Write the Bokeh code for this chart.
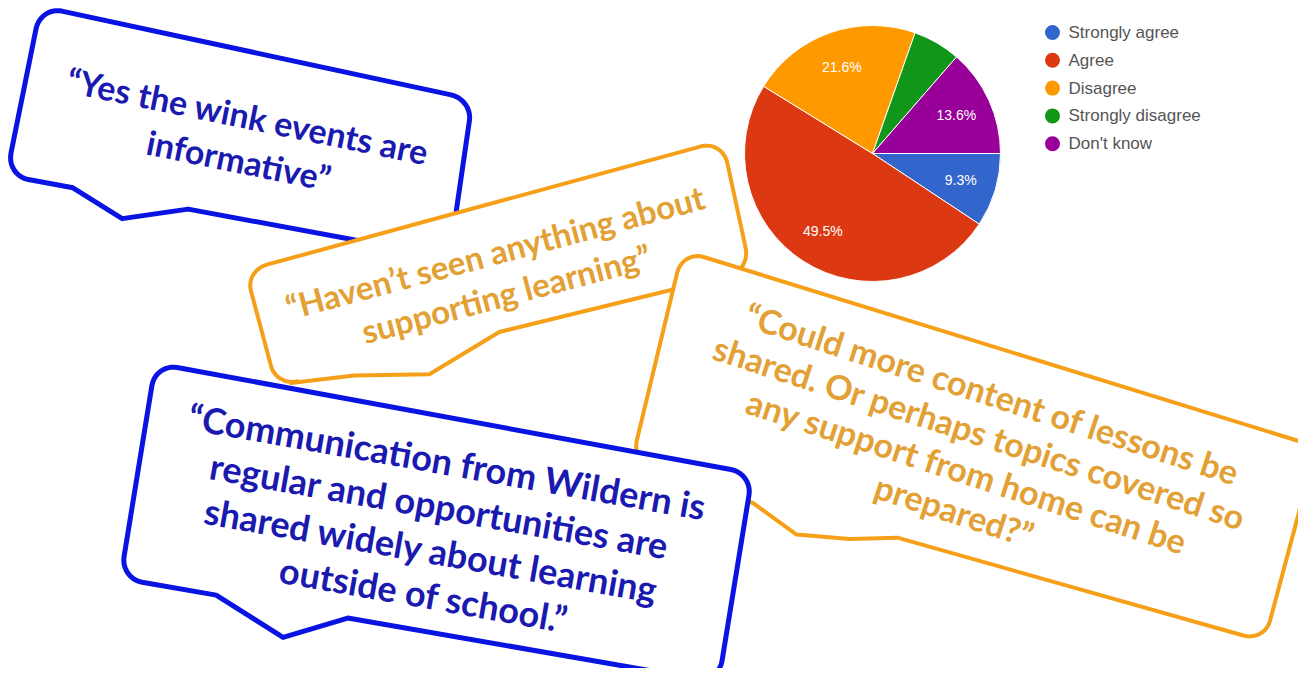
import math
import numpy as np
from bokeh.plotting import figure
from bokeh.models import Range1d
from bokeh.core.properties import value
from bokeh.embed import file_html
from bokeh.resources import INLINE

# ---------------- data ----------------
categories = ["Strongly agree", "Agree", "Disagree", "Strongly disagree", "Don't know"]
percents = [9.3, 49.5, 21.6, 6.0, 13.6]
slice_colors = ["#3366cc", "#dc3912", "#ff9900", "#109618", "#990099"]

quote_wink = ["\u201cYes the wink events are", "informative\u201d"]
quote_seen = ["\u201cHaven\u2019t seen anything about", "supporting learning\u201d"]
quote_comm = ["\u201cCommunication from Wildern is", "regular and opportunities are",
              "shared widely about learning", "outside of school.\u201d"]
quote_could = ["\u201cCould more content of lessons be", "shared. Or perhaps topics covered so",
               "any support from home can be", "prepared?\u201d"]

BLUE_LINE, BLUE_TEXT = "#0a14e2", "#1a1ab0"
ORANGE_LINE, ORANGE_TEXT = "#f6a01a", "#e3a035"

# layout of the speech bubbles (screen pixel geometry)
bubbles = [
    dict(corners=[(40, 6), (472, 99), (449, 257), (6, 175)], tail=[(0.15, 0), (0.27, 21), (0.41, 0)],
         line=BLUE_LINE, lw=5, text=quote_wink, tc=BLUE_TEXT, center=(243, 137), angle=11.5, fs=34, sp=45),
    dict(corners=[(245, 270), (722, 140), (750, 270), (276, 386)], tail=[(0.03, 0), (0.16, 8), (0.31, 25), (0.47, 0)],
         line=ORANGE_LINE, lw=4, text=quote_seen, tc=ORANGE_TEXT, center=(500, 272), angle=-15, fs=33, sp=43),
    dict(corners=[(682, 250), (1316, 446), (1264, 641), (631, 462)], tail=[(0.12, 0), (0.195, 6), (0.27, 24), (0.35, 14), (0.42, 0)],
         line=ORANGE_LINE, lw=4, text=quote_could, tc=ORANGE_TEXT, center=(973, 451), angle=18, fs=34, sp=41),
    dict(corners=[(155, 363), (752, 473), (718, 682), (120, 578)], tail=[(0.16, 0), (0.28, 30), (0.38, 0)],
         line=BLUE_LINE, lw=5, text=quote_comm, tc=BLUE_TEXT, center=(435, 527), angle=10, fs=36, sp=45),
]

PAGE_H = 684


def sy(y):
    return PAGE_H - y


def dist(a, b):
    return math.hypot(a[0] - b[0], a[1] - b[1])


def bubble_outline(corners, tail, radius=22):
    tl, tr, br, bl = corners
    W = (dist(tl, tr) + dist(bl, br)) / 2
    H = (dist(tl, bl) + dist(tr, br)) / 2
    rs, rt = radius / W, radius / H
    pts = []

    def arc(cx, cy, a0, a1, n=10):
        for k in range(n + 1):
            a = math.radians(a0 + (a1 - a0) * k / n)
            pts.append((cx + rs * math.cos(a), cy + rt * math.sin(a)))

    arc(1 - rs, rt, -90, 0)
    arc(1 - rs, 1 - rt, 0, 90)
    for s, d in sorted(tail, reverse=True):
        pts.append((s, 1 + d / H))
    arc(rs, 1 - rt, 90, 180)
    arc(rs, rt, 180, 270)
    xs, ys = [], []
    for s, t in pts:
        px = (1 - s) * (1 - t) * tl[0] + s * (1 - t) * tr[0] + s * t * br[0] + (1 - s) * t * bl[0]
        py = (1 - s) * (1 - t) * tl[1] + s * (1 - t) * tr[1] + s * t * br[1] + (1 - s) * t * bl[1]
        xs.append(px)
        ys.append(sy(py))
    return xs, ys


p = figure(width=1298, height=668, output_backend="svg", toolbar_location=None,
           x_range=Range1d(0, 1298), y_range=Range1d(16, 684), min_border=0)
p.axis.visible = False
p.grid.visible = False
p.outline_line_color = None
p.background_fill_color = "white"
p.border_fill_color = "white"

for b in bubbles:
    xs, ys = bubble_outline(b["corners"], b["tail"])
    p.patch(xs, ys, fill_color="white", line_color=b["line"], line_width=b["lw"], line_join="round")
    phi = math.radians(b["angle"])
    nx, ny = -math.sin(phi), math.cos(phi)
    n = len(b["text"])
    tx, ty = [], []
    for i in range(n):
        off = (i - (n - 1) / 2) * b["sp"]
        tx.append(b["center"][0] + off * nx)
        ty.append(sy(b["center"][1] + off * ny))
    p.text(x=tx, y=ty, text=b["text"], angle=-b["angle"], angle_units="deg",
           text_align="center", text_baseline="middle", text_font=value("Lato"),
           text_font_style="bold", text_font_size="%dpx" % b["fs"], text_color=b["tc"])

# ---------------- pie ----------------
cx, cy, R = 872, sy(153), 128
fr = np.array(percents) / sum(percents)
cum = np.concatenate([[0.0], np.cumsum(fr)])
starts = -2 * np.pi * cum[1:]
ends = -2 * np.pi * cum[:-1]
p.wedge(x=[cx] * len(fr), y=[cy] * len(fr), radius=R, start_angle=starts, end_angle=ends,
        fill_color=slice_colors, line_color="white", line_width=1)

mids = -np.pi * (cum[:-1] + cum[1:])
lx, ly, lt = [], [], []
for m, v in zip(mids, percents):
    if v >= 7:
        lx.append(cx + 0.72 * R * math.cos(m))
        ly.append(cy + 0.72 * R * math.sin(m))
        lt.append("%.1f%%" % v)
p.text(x=lx, y=ly, text=lt, text_align="center", text_baseline="middle",
       text_font=value("Liberation Sans"), text_font_size="14px", text_color="white")

# ---------------- legend ----------------
leg_y = [sy(32 + i * 27.8) for i in range(len(categories))]
p.scatter(x=[1052] * len(categories), y=leg_y, size=15, color=slice_colors, line_color=None)
p.text(x=[1068] * len(categories), y=leg_y, text=categories, text_align="left", text_baseline="middle",
       text_font=value("Liberation Sans"), text_font_size="17px", text_color="#555555")

open("out.html", "w").write(file_html(p, INLINE))
